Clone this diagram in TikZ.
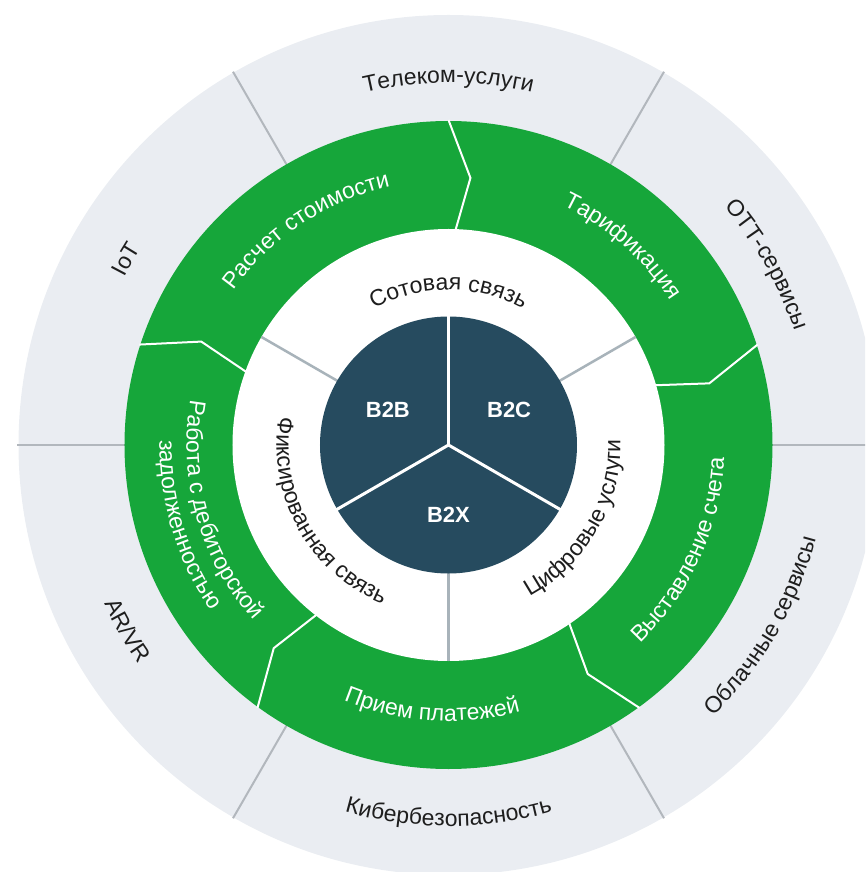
\documentclass[tikz,border=0pt]{standalone}
\usepackage{fontspec}
\setmainfont{Liberation Sans}
\usetikzlibrary{decorations.text}
\definecolor{ringgray}{RGB}{234,237,242}
\definecolor{divgray}{RGB}{178,183,189}
\definecolor{innergray}{RGB}{168,179,186}
\definecolor{mygreen}{RGB}{22,166,58}
\definecolor{navy}{RGB}{38,75,95}
\definecolor{labeldark}{RGB}{30,30,30}
\newcommand{\glbl}{\fontsize{23}{27}\selectfont\color{labeldark}}
\newcommand{\wlbl}{\fontsize{23}{27}\selectfont\color{white}}
% #1 format, #2 baseline radius, #3 centre angle, #4 text
\newcommand{\cwarctext}[4]{%
  \path[decorate, decoration={text along path, text align=center, text={|#1|#4}}]
    ({#3+60}:#2) arc[start angle={#3+60}, end angle={#3-60}, radius=#2];}
\newcommand{\ccwarctext}[4]{%
  \path[decorate, decoration={text along path, text align=center, text={|#1|#4}}]
    ({#3-60}:#2) arc[start angle={#3-60}, end angle={#3+60}, radius=#2];}
\begin{document}
\begin{tikzpicture}[x=1pt,y=1pt,
  outerdiv/.style={divgray, line width=2pt},
  innerdiv/.style={innergray, line width=2.5pt},
  chevron/.style={white, line width=2pt, line join=miter},
  corediv/.style={white, line width=3pt},
  bizlbl/.style={text=white, font=\fontsize{22}{26}\selectfont\bfseries, inner sep=0pt}]
\useasboundingbox (-448.5,-427) rectangle (416.5,445);
\clip (-448.5,-427) rectangle (416.5,445);
% outer gray ring
\fill[ringgray] (0,0) circle[radius=430];
\foreach \a in {0,60,120,180,240,300}
  \draw[outerdiv] (\a:323) -- (\a:431);
% green ring
\fill[mygreen] (0,0) circle[radius=324];
\fill[white] (0,0) circle[radius=216];
\foreach \a in {90,18,-54,-126,162}
  \draw[chevron] (\a:325) -- ({\a-4.7}:268) -- ({\a-1.9}:215.5);
% white ring dividers
\foreach \a in {30,150,270}
  \draw[innerdiv] (\a:126) -- (\a:216);
% core disc
\fill[navy] (0,0) circle[radius=128.5];
\foreach \a in {90,210,330}
  \draw[corediv] (0,0) -- (\a:129.5);
\node[bizlbl] (b2b) at (150:70) {B2B};
\node[bizlbl] (b2c) at (30:70) {B2C};
\node[bizlbl] (b2x) at (270:70) {B2X};
% white ring labels
\cwarctext{\glbl}{155}{90}{Сотовая связь}
\ccwarctext{\glbl}{172}{-30}{Цифровые услуги}
\ccwarctext{\glbl}{172}{209}{Фиксированная связь}
% green ring labels
\cwarctext{\wlbl}{265}{123.5}{Расчет стоимости}
\cwarctext{\wlbl}{265}{48.7}{Тарификация}
\ccwarctext{\wlbl}{276}{-24.3}{Выставление счета}
\ccwarctext{\wlbl}{276}{266.4}{Прием платежей}
\ccwarctext{\wlbl}{262}{196}{Работа с дебиторской}
\ccwarctext{\wlbl}{289}{197}{задолженностью}
% gray ring labels
\cwarctext{\glbl}{362}{90}{Телеком-услуги}
\cwarctext{\glbl}{364}{29.5}{OTT-сервисы}
\cwarctext{\glbl}{365}{150}{IoT}
\ccwarctext{\glbl}{379}{-30}{Облачные сервисы}
\ccwarctext{\glbl}{381}{270}{Кибербезопасность}
\ccwarctext{\glbl}{379}{210}{AR/VR}
\end{tikzpicture}
\end{document}
